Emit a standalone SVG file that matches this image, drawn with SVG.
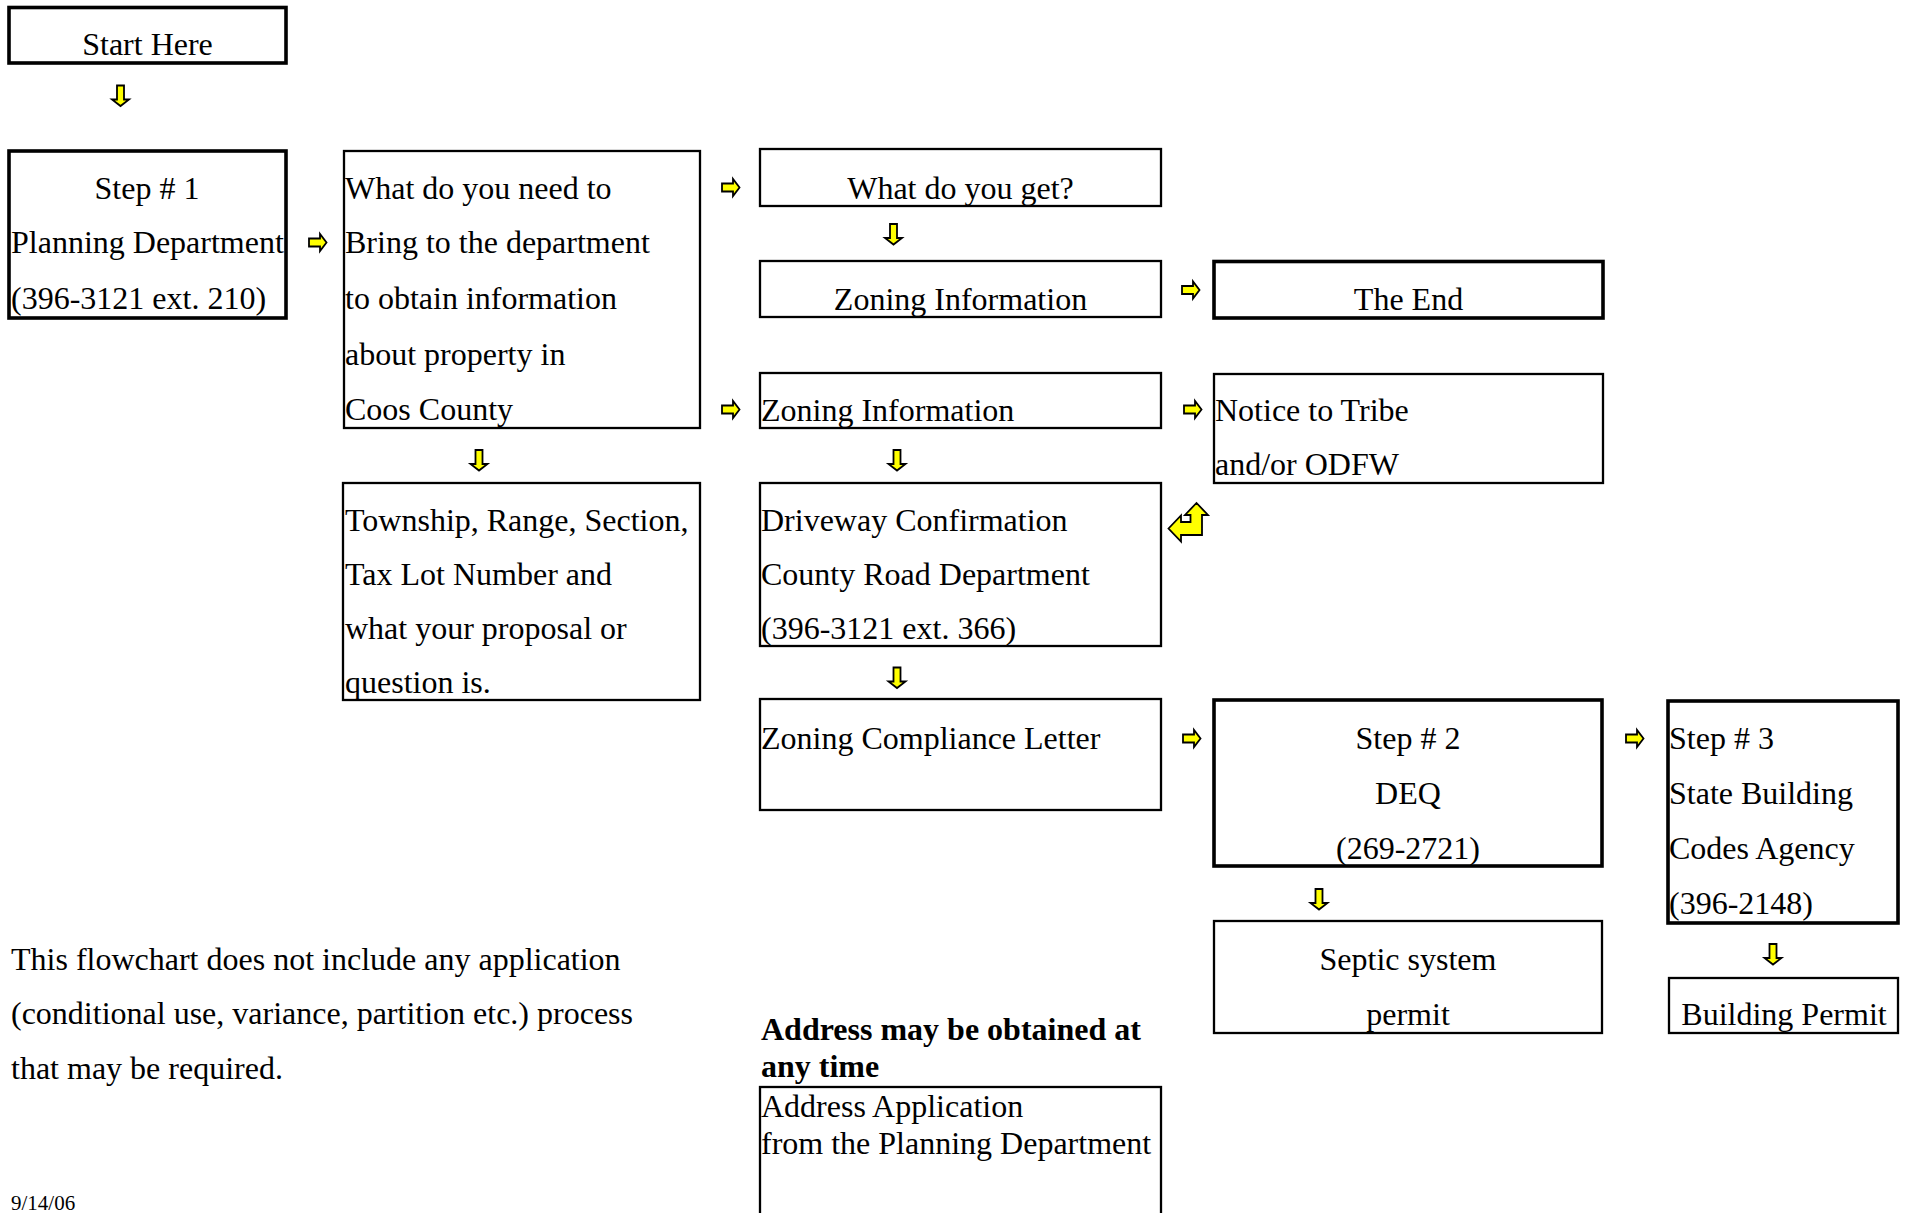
<svg xmlns="http://www.w3.org/2000/svg" xmlns:xlink="http://www.w3.org/1999/xlink" width="1908" height="1213" viewBox="0 0 1908 1213">
<style>
  text { font-family: "Liberation Serif", "Times New Roman", serif; font-size: 32px; fill: #000; }
  .c { text-anchor: middle; }
  .b { font-weight: bold; }
  .small { font-size: 21px; }
  .box { fill: #fff; stroke: #000; stroke-width: 2.3; }
  .thick { stroke-width: 3.6; }
  .arr { fill: #ffff00; stroke: #000; stroke-width: 1.8; stroke-linejoin: miter; }
</style>
<defs>
  <path id="ra" class="arr" d="M0,-4 H11 V-8.5 L17.5,0 L11,8.5 V4 H0 Z"/>
  <path id="da" class="arr" d="M-3.5,0 V14 H-8.5 L0,20.5 L8.5,14 H3.5 V0 Z"/>
</defs>
<rect width="1908" height="1213" fill="#fff"/>

<g id="start">
  <rect class="box thick" x="9" y="7.5" width="277" height="55.5"/>
  <text class="c" x="147.5" y="54.5">Start Here</text>
</g>
<g id="step1">
  <rect class="box thick" x="9" y="151" width="277" height="167"/>
  <text class="c" x="147" y="199">Step # 1</text>
  <text x="11" y="253">Planning Department</text>
  <text x="11" y="308.5">(396-3121 ext. 210)</text>
</g>
<g id="need">
  <rect class="box" x="344" y="151" width="356" height="277"/>
  <text x="345" y="199">What do you need to</text>
  <text x="345" y="253">Bring to the department</text>
  <text x="345" y="309">to obtain information</text>
  <text x="345" y="365">about property in</text>
  <text x="345" y="420">Coos County</text>
</g>
<g id="get">
  <rect class="box" x="760" y="149" width="401" height="57"/>
  <text class="c" x="960.5" y="199">What do you get?</text>
</g>
<g id="zoning1">
  <rect class="box" x="760" y="261" width="401" height="56"/>
  <text class="c" x="960.5" y="309.5">Zoning Information</text>
</g>
<g id="end">
  <rect class="box thick" x="1214" y="261.5" width="389" height="56.5"/>
  <text class="c" x="1408.5" y="309.5">The End</text>
</g>
<g id="zoning2">
  <rect class="box" x="760" y="373" width="401" height="55"/>
  <text x="761" y="420.5">Zoning Information</text>
</g>
<g id="notice">
  <rect class="box" x="1214" y="374" width="389" height="109"/>
  <text x="1215" y="420.5">Notice to Tribe</text>
  <text x="1215" y="474.5">and/or ODFW</text>
</g>
<g id="township">
  <rect class="box" x="343" y="483" width="357" height="217"/>
  <text x="345" y="530.5">Township, Range, Section,</text>
  <text x="345" y="584.5">Tax Lot Number and</text>
  <text x="345" y="638.5">what your proposal or</text>
  <text x="345" y="692.5">question is.</text>
</g>
<g id="driveway">
  <rect class="box" x="760" y="483" width="401" height="163"/>
  <text x="761" y="530.5">Driveway Confirmation</text>
  <text x="761" y="584.5">County Road Department</text>
  <text x="761" y="638.5">(396-3121 ext. 366)</text>
</g>
<g id="compliance">
  <rect class="box" x="760" y="699" width="401" height="111"/>
  <text x="761" y="748.5">Zoning Compliance Letter</text>
</g>
<g id="step2">
  <rect class="box thick" x="1214" y="700" width="388" height="166"/>
  <text class="c" x="1408" y="748.5">Step # 2</text>
  <text class="c" x="1408" y="803.5">DEQ</text>
  <text class="c" x="1408" y="858.5">(269-2721)</text>
</g>
<g id="step3">
  <rect class="box thick" x="1668" y="701" width="230" height="222"/>
  <text x="1669" y="748.5">Step # 3</text>
  <text x="1669" y="803.5">State Building</text>
  <text x="1669" y="858.5">Codes Agency</text>
  <text x="1669" y="913.5">(396-2148)</text>
</g>
<g id="septic">
  <rect class="box" x="1214" y="921" width="388" height="112"/>
  <text class="c" x="1408" y="969.5">Septic system</text>
  <text class="c" x="1408" y="1024.5">permit</text>
</g>
<g id="building">
  <rect class="box" x="1669" y="978" width="229" height="55"/>
  <text class="c" x="1784" y="1024.5">Building Permit</text>
</g>
<g id="address">
  <rect class="box" x="760" y="1087" width="401" height="160"/>
  <text x="761" y="1116.5">Address Application</text>
  <text x="761" y="1153.5">from the Planning Department</text>
</g>

<g id="notes">
  <text x="11" y="969.5">This flowchart does not include any application</text>
  <text x="11" y="1023.5">(conditional use, variance, partition etc.) process</text>
  <text x="11" y="1078.5">that may be required.</text>
  <text class="b" x="761" y="1039.5">Address may be obtained at</text>
  <text class="b" x="761" y="1076.5">any time</text>
  <text class="small" x="11" y="1210">9/14/06</text>
</g>

<g id="connectors">
  <use xlink:href="#ra" href="#ra" transform="translate(309,242.5)"/>
  <use xlink:href="#ra" href="#ra" transform="translate(722,187.5)"/>
  <use xlink:href="#ra" href="#ra" transform="translate(1182,290)"/>
  <use xlink:href="#ra" href="#ra" transform="translate(722,409.5)"/>
  <use xlink:href="#ra" href="#ra" transform="translate(1184,409.5)"/>
  <use xlink:href="#ra" href="#ra" transform="translate(1183,738.5)"/>
  <use xlink:href="#ra" href="#ra" transform="translate(1626,738.5)"/>
  <use xlink:href="#da" href="#da" transform="translate(120.5,85.5)"/>
  <use xlink:href="#da" href="#da" transform="translate(893.5,224)"/>
  <use xlink:href="#da" href="#da" transform="translate(479,450)"/>
  <use xlink:href="#da" href="#da" transform="translate(897,450)"/>
  <use xlink:href="#da" href="#da" transform="translate(897,667.5)"/>
  <use xlink:href="#da" href="#da" transform="translate(1319,889)"/>
  <use xlink:href="#da" href="#da" transform="translate(1773,944)"/>
  <path class="arr" d="M1168.5,528.5 L1181,515.5 V522 H1190.5 V515 H1185 L1196.5,503 L1208,515 H1202 V535 H1181 V541.5 Z"/>
</g>
</svg>
